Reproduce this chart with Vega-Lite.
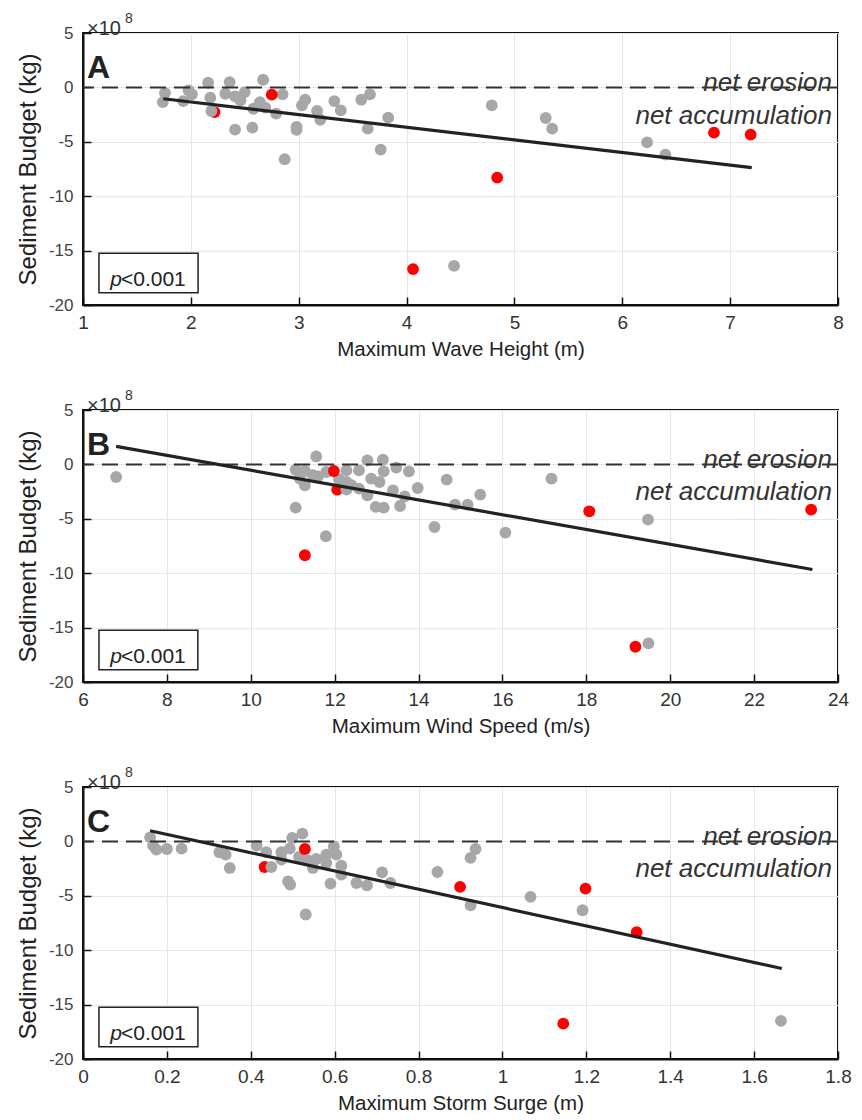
{
  "$schema": "https://vega.github.io/schema/vega-lite/v6.json",
  "background": "white",
  "autosize": {"type": "pad"},
  "padding": {"left": 15, "top": 11, "right": 12, "bottom": 4},
  "bounds": "flush",
  "spacing": 105,
  "config": {
    "font": "Liberation Sans",
    "view": {"stroke": "#111", "strokeWidth": 2},
    "axis": {
      "grid": true, "gridColor": "#e6e6e6", "gridWidth": 1,
      "domainColor": "#111", "domainWidth": 2,
      "tickColor": "#111", "tickWidth": 1.5, "tickSize": -8,
      "labelFlush": false, "labelOverlap": false,
      "titleFontWeight": "normal", "titleColor": "#222", "labelColor": "#333"
    },
    "axisX": {"labelFont": "Liberation Sans", "labelFontSize": 19, "labelPadding": 16,
              "titleFont": "Liberation Sans", "titleFontSize": 20.5, "titlePadding": 7},
    "axisY": {"labelFont": "Liberation Sans", "labelFontSize": 17, "labelPadding": 18, "labelColor": "#444",
              "titleFont": "Liberation Sans", "titleFontSize": 24, "titlePadding": 8}
  },
  "datasets": {
    "pts": [
      {"p":"A","x":2.22,"y":-2.27,"k":"r"},
      {"p":"A","x":1.76,"y":-0.52,"k":"g"},
      {"p":"A","x":1.74,"y":-1.35,"k":"g"},
      {"p":"A","x":1.98,"y":-0.28,"k":"g"},
      {"p":"A","x":2.01,"y":-0.64,"k":"g"},
      {"p":"A","x":1.93,"y":-1.26,"k":"g"},
      {"p":"A","x":2.16,"y":0.43,"k":"g"},
      {"p":"A","x":2.18,"y":-0.95,"k":"g"},
      {"p":"A","x":2.19,"y":-2.17,"k":"g"},
      {"p":"A","x":2.36,"y":0.49,"k":"g"},
      {"p":"A","x":2.32,"y":-0.58,"k":"g"},
      {"p":"A","x":2.41,"y":-0.83,"k":"g"},
      {"p":"A","x":2.50,"y":-0.43,"k":"g"},
      {"p":"A","x":2.46,"y":-1.19,"k":"g"},
      {"p":"A","x":2.41,"y":-3.88,"k":"g"},
      {"p":"A","x":2.57,"y":-3.70,"k":"g"},
      {"p":"A","x":2.58,"y":-1.96,"k":"g"},
      {"p":"A","x":2.64,"y":-1.35,"k":"g"},
      {"p":"A","x":2.69,"y":-1.86,"k":"g"},
      {"p":"A","x":2.67,"y":0.70,"k":"g"},
      {"p":"A","x":2.85,"y":-0.64,"k":"g"},
      {"p":"A","x":2.79,"y":-2.41,"k":"g"},
      {"p":"A","x":2.87,"y":-6.60,"k":"g"},
      {"p":"A","x":2.98,"y":-3.64,"k":"g"},
      {"p":"A","x":2.98,"y":-3.90,"k":"g"},
      {"p":"A","x":3.03,"y":-1.65,"k":"g"},
      {"p":"A","x":3.06,"y":-1.13,"k":"g"},
      {"p":"A","x":3.17,"y":-2.17,"k":"g"},
      {"p":"A","x":3.20,"y":-2.97,"k":"g"},
      {"p":"A","x":3.33,"y":-1.26,"k":"g"},
      {"p":"A","x":3.39,"y":-2.11,"k":"g"},
      {"p":"A","x":3.58,"y":-1.13,"k":"g"},
      {"p":"A","x":3.66,"y":-0.64,"k":"g"},
      {"p":"A","x":3.64,"y":-3.79,"k":"g"},
      {"p":"A","x":3.76,"y":-5.72,"k":"g"},
      {"p":"A","x":3.83,"y":-2.78,"k":"g"},
      {"p":"A","x":4.79,"y":-1.65,"k":"g"},
      {"p":"A","x":5.29,"y":-2.81,"k":"g"},
      {"p":"A","x":5.35,"y":-3.79,"k":"g"},
      {"p":"A","x":6.23,"y":-5.05,"k":"g"},
      {"p":"A","x":6.40,"y":-6.18,"k":"g"},
      {"p":"A","x":4.44,"y":-16.4,"k":"g"},
      {"p":"A","x":2.75,"y":-0.67,"k":"r"},
      {"p":"A","x":4.84,"y":-8.29,"k":"r"},
      {"p":"A","x":6.85,"y":-4.16,"k":"r"},
      {"p":"A","x":7.19,"y":-4.34,"k":"r"},
      {"p":"A","x":4.06,"y":-16.7,"k":"r"},

      {"p":"B","x":12.06,"y":-2.32,"k":"r"},
      {"p":"B","x":6.79,"y":-1.16,"k":"g"},
      {"p":"B","x":11.56,"y":0.73,"k":"g"},
      {"p":"B","x":11.07,"y":-0.49,"k":"g"},
      {"p":"B","x":11.29,"y":-0.61,"k":"g"},
      {"p":"B","x":11.48,"y":-1.00,"k":"g"},
      {"p":"B","x":11.17,"y":-1.31,"k":"g"},
      {"p":"B","x":11.29,"y":-1.93,"k":"g"},
      {"p":"B","x":11.07,"y":-3.97,"k":"g"},
      {"p":"B","x":11.79,"y":-6.60,"k":"g"},
      {"p":"B","x":11.80,"y":-0.70,"k":"g"},
      {"p":"B","x":11.60,"y":-1.10,"k":"g"},
      {"p":"B","x":12.10,"y":-1.35,"k":"g"},
      {"p":"B","x":12.40,"y":-1.90,"k":"g"},
      {"p":"B","x":12.28,"y":-0.55,"k":"g"},
      {"p":"B","x":12.28,"y":-1.62,"k":"g"},
      {"p":"B","x":12.28,"y":-2.32,"k":"g"},
      {"p":"B","x":12.58,"y":-0.55,"k":"g"},
      {"p":"B","x":12.78,"y":0.37,"k":"g"},
      {"p":"B","x":12.87,"y":-1.31,"k":"g"},
      {"p":"B","x":13.07,"y":-1.62,"k":"g"},
      {"p":"B","x":12.78,"y":-2.84,"k":"g"},
      {"p":"B","x":12.58,"y":-2.23,"k":"g"},
      {"p":"B","x":13.15,"y":0.43,"k":"g"},
      {"p":"B","x":13.17,"y":-0.64,"k":"g"},
      {"p":"B","x":12.98,"y":-3.91,"k":"g"},
      {"p":"B","x":13.17,"y":-3.97,"k":"g"},
      {"p":"B","x":13.47,"y":-0.30,"k":"g"},
      {"p":"B","x":13.39,"y":-2.39,"k":"g"},
      {"p":"B","x":13.67,"y":-2.94,"k":"g"},
      {"p":"B","x":13.56,"y":-3.82,"k":"g"},
      {"p":"B","x":13.77,"y":-0.64,"k":"g"},
      {"p":"B","x":13.98,"y":-2.17,"k":"g"},
      {"p":"B","x":14.38,"y":-5.75,"k":"g"},
      {"p":"B","x":14.67,"y":-1.40,"k":"g"},
      {"p":"B","x":14.87,"y":-3.70,"k":"g"},
      {"p":"B","x":15.17,"y":-3.70,"k":"g"},
      {"p":"B","x":15.47,"y":-2.78,"k":"g"},
      {"p":"B","x":16.07,"y":-6.27,"k":"g"},
      {"p":"B","x":17.17,"y":-1.31,"k":"g"},
      {"p":"B","x":19.47,"y":-5.08,"k":"g"},
      {"p":"B","x":19.48,"y":-16.45,"k":"g"},
      {"p":"B","x":11.98,"y":-0.61,"k":"r"},
      {"p":"B","x":11.29,"y":-8.35,"k":"r"},
      {"p":"B","x":18.07,"y":-4.31,"k":"r"},
      {"p":"B","x":23.36,"y":-4.16,"k":"r"},
      {"p":"B","x":19.17,"y":-16.76,"k":"r"},

      {"p":"C","x":0.433,"y":-2.35,"k":"r"},
      {"p":"C","x":0.160,"y":0.37,"k":"g"},
      {"p":"C","x":0.167,"y":-0.39,"k":"g"},
      {"p":"C","x":0.175,"y":-0.76,"k":"g"},
      {"p":"C","x":0.200,"y":-0.70,"k":"g"},
      {"p":"C","x":0.235,"y":-0.67,"k":"g"},
      {"p":"C","x":0.325,"y":-1.00,"k":"g"},
      {"p":"C","x":0.340,"y":-1.22,"k":"g"},
      {"p":"C","x":0.350,"y":-2.44,"k":"g"},
      {"p":"C","x":0.414,"y":-0.39,"k":"g"},
      {"p":"C","x":0.437,"y":-1.00,"k":"g"},
      {"p":"C","x":0.449,"y":-2.35,"k":"g"},
      {"p":"C","x":0.473,"y":-1.00,"k":"g"},
      {"p":"C","x":0.473,"y":-1.68,"k":"g"},
      {"p":"C","x":0.489,"y":-3.67,"k":"g"},
      {"p":"C","x":0.494,"y":-3.97,"k":"g"},
      {"p":"C","x":0.493,"y":-0.67,"k":"g"},
      {"p":"C","x":0.499,"y":0.31,"k":"g"},
      {"p":"C","x":0.523,"y":0.71,"k":"g"},
      {"p":"C","x":0.515,"y":-1.43,"k":"g"},
      {"p":"C","x":0.531,"y":-6.72,"k":"g"},
      {"p":"C","x":0.536,"y":-1.74,"k":"g"},
      {"p":"C","x":0.548,"y":-2.44,"k":"g"},
      {"p":"C","x":0.556,"y":-1.62,"k":"g"},
      {"p":"C","x":0.580,"y":-1.22,"k":"g"},
      {"p":"C","x":0.580,"y":-1.99,"k":"g"},
      {"p":"C","x":0.598,"y":-0.46,"k":"g"},
      {"p":"C","x":0.604,"y":-1.22,"k":"g"},
      {"p":"C","x":0.616,"y":-2.23,"k":"g"},
      {"p":"C","x":0.616,"y":-3.05,"k":"g"},
      {"p":"C","x":0.590,"y":-3.88,"k":"g"},
      {"p":"C","x":0.652,"y":-3.82,"k":"g"},
      {"p":"C","x":0.677,"y":-4.04,"k":"g"},
      {"p":"C","x":0.713,"y":-2.84,"k":"g"},
      {"p":"C","x":0.733,"y":-3.82,"k":"g"},
      {"p":"C","x":0.845,"y":-2.81,"k":"g"},
      {"p":"C","x":0.924,"y":-5.87,"k":"g"},
      {"p":"C","x":0.924,"y":-1.52,"k":"g"},
      {"p":"C","x":0.936,"y":-0.70,"k":"g"},
      {"p":"C","x":1.067,"y":-5.10,"k":"g"},
      {"p":"C","x":1.191,"y":-6.33,"k":"g"},
      {"p":"C","x":1.664,"y":-16.5,"k":"g"},
      {"p":"C","x":0.529,"y":-0.70,"k":"r"},
      {"p":"C","x":0.899,"y":-4.18,"k":"r"},
      {"p":"C","x":1.198,"y":-4.34,"k":"r"},
      {"p":"C","x":1.320,"y":-8.35,"k":"r"},
      {"p":"C","x":1.145,"y":-16.75,"k":"r"}
    ],
    "fit": [
      {"p":"A","x":1.745,"y":-1.04},
      {"p":"A","x":7.2,"y":-7.37},
      {"p":"B","x":6.79,"y":1.65},
      {"p":"B","x":23.39,"y":-9.66},
      {"p":"C","x":0.16,"y":0.98},
      {"p":"C","x":1.666,"y":-11.68}
    ]
  },
  "vconcat": [
    {
      "width": 755, "height": 272,
      "layer": [
        {
          "data": {"name": "pts"},
          "transform": [{"filter": "datum.p === 'A'"}],
          "mark": {"type": "circle", "size": 140, "opacity": 1},
          "encoding": {
            "x": {"field": "x", "type": "quantitative", "scale": {"domain": [1, 8], "nice": false, "zero": false},
                  "axis": {"values": [1,2,3,4,5,6,7,8], "labelExpr": "'' + datum.value"}, "title": "Maximum Wave Height (m)"},
            "y": {"field": "y", "type": "quantitative", "scale": {"domain": [-20, 5], "nice": false, "zero": false},
                  "axis": {"values": [-20,-15,-10,-5,0,5], "labelExpr": "'' + datum.value"}, "title": "Sediment Budget (kg)"},
            "color": {"field": "k", "type": "nominal", "scale": {"domain": ["g","r"], "range": ["#a7a7a9","#ff0000"]}, "legend": null}
          }
        },
        {
          "data": {"values": [{}]},
          "mark": {"type": "rule", "strokeDash": [16, 8], "color": "#333", "strokeWidth": 2},
          "encoding": {"y": {"datum": 0}}
        },
        {
          "data": {"name": "fit"},
          "transform": [{"filter": "datum.p === 'A'"}],
          "mark": {"type": "line", "color": "#222", "strokeWidth": 3.2},
          "encoding": {"x": {"field": "x", "type": "quantitative"}, "y": {"field": "y", "type": "quantitative"}}
        },
        {
          "data": {"values": [{}]},
          "mark": {"type": "text", "text": "A", "fontSize": 32, "fontWeight": "bold", "align": "left", "dx": 4, "dy": 35, "color": "#222"},
          "encoding": {"x": {"datum": 1}, "y": {"datum": 5}}
        },
        {
          "data": {"values": [{}]},
          "mark": {"type": "text", "text": "×10", "fontSize": 20, "align": "left", "dx": 4, "dy": -4, "color": "#333"},
          "encoding": {"x": {"datum": 1}, "y": {"datum": 5}}
        },
        {
          "data": {"values": [{}]},
          "mark": {"type": "text", "text": "8", "fontSize": 14, "align": "left", "dx": 42, "dy": -14, "color": "#333"},
          "encoding": {"x": {"datum": 1}, "y": {"datum": 5}}
        },
        {
          "data": {"values": [{}]},
          "mark": {"type": "text", "text": "net erosion", "fontSize": 26, "fontStyle": "italic", "align": "right", "dx": -6, "dy": -4, "color": "#333"},
          "encoding": {"x": {"datum": 8}, "y": {"datum": 0}}
        },
        {
          "data": {"values": [{}]},
          "mark": {"type": "text", "text": "net accumulation", "fontSize": 26, "fontStyle": "italic", "align": "right", "dx": -6, "dy": 29, "color": "#333"},
          "encoding": {"x": {"datum": 8}, "y": {"datum": 0}}
        },
        {
          "data": {"values": [{}]},
          "mark": {"type": "rect", "fill": "white", "stroke": "#222", "strokeWidth": 1.5},
          "encoding": {"x": {"datum": 1.148}, "x2": {"datum": 2.067}, "y": {"datum": -15.25}, "y2": {"datum": -18.87}}
        },
        {
          "data": {"values": [{}]},
          "mark": {"type": "text", "text": "p", "fontSize": 21, "fontStyle": "italic", "align": "right", "dx": 23, "color": "#222"},
          "encoding": {"x": {"datum": 1.148}, "y": {"datum": -17.7}}
        },
        {
          "data": {"values": [{}]},
          "mark": {"type": "text", "text": "<0.001", "fontSize": 21, "align": "left", "dx": 22, "color": "#222"},
          "encoding": {"x": {"datum": 1.148}, "y": {"datum": -17.7}}
        }
      ]
    },
    {
      "width": 755, "height": 272,
      "layer": [
        {
          "data": {"name": "pts"},
          "transform": [{"filter": "datum.p === 'B'"}],
          "mark": {"type": "circle", "size": 140, "opacity": 1},
          "encoding": {
            "x": {"field": "x", "type": "quantitative", "scale": {"domain": [6, 24], "nice": false, "zero": false},
                  "axis": {"values": [6,8,10,12,14,16,18,20,22,24], "labelExpr": "'' + datum.value"}, "title": "Maximum Wind Speed (m/s)"},
            "y": {"field": "y", "type": "quantitative", "scale": {"domain": [-20, 5], "nice": false, "zero": false},
                  "axis": {"values": [-20,-15,-10,-5,0,5], "labelExpr": "'' + datum.value"}, "title": "Sediment Budget (kg)"},
            "color": {"field": "k", "type": "nominal", "scale": {"domain": ["g","r"], "range": ["#a7a7a9","#ff0000"]}, "legend": null}
          }
        },
        {
          "data": {"values": [{}]},
          "mark": {"type": "rule", "strokeDash": [16, 8], "color": "#333", "strokeWidth": 2},
          "encoding": {"y": {"datum": 0}}
        },
        {
          "data": {"name": "fit"},
          "transform": [{"filter": "datum.p === 'B'"}],
          "mark": {"type": "line", "color": "#222", "strokeWidth": 3.2},
          "encoding": {"x": {"field": "x", "type": "quantitative"}, "y": {"field": "y", "type": "quantitative"}}
        },
        {
          "data": {"values": [{}]},
          "mark": {"type": "text", "text": "B", "fontSize": 32, "fontWeight": "bold", "align": "left", "dx": 4, "dy": 35, "color": "#222"},
          "encoding": {"x": {"datum": 6}, "y": {"datum": 5}}
        },
        {
          "data": {"values": [{}]},
          "mark": {"type": "text", "text": "×10", "fontSize": 20, "align": "left", "dx": 4, "dy": -4, "color": "#333"},
          "encoding": {"x": {"datum": 6}, "y": {"datum": 5}}
        },
        {
          "data": {"values": [{}]},
          "mark": {"type": "text", "text": "8", "fontSize": 14, "align": "left", "dx": 42, "dy": -14, "color": "#333"},
          "encoding": {"x": {"datum": 6}, "y": {"datum": 5}}
        },
        {
          "data": {"values": [{}]},
          "mark": {"type": "text", "text": "net erosion", "fontSize": 26, "fontStyle": "italic", "align": "right", "dx": -6, "dy": -4, "color": "#333"},
          "encoding": {"x": {"datum": 24}, "y": {"datum": 0}}
        },
        {
          "data": {"values": [{}]},
          "mark": {"type": "text", "text": "net accumulation", "fontSize": 26, "fontStyle": "italic", "align": "right", "dx": -6, "dy": 28, "color": "#333"},
          "encoding": {"x": {"datum": 24}, "y": {"datum": 0}}
        },
        {
          "data": {"values": [{}]},
          "mark": {"type": "rect", "fill": "white", "stroke": "#222", "strokeWidth": 1.5},
          "encoding": {"x": {"datum": 6.381}, "x2": {"datum": 8.738}, "y": {"datum": -15.25}, "y2": {"datum": -18.87}}
        },
        {
          "data": {"values": [{}]},
          "mark": {"type": "text", "text": "p", "fontSize": 21, "fontStyle": "italic", "align": "right", "dx": 23, "color": "#222"},
          "encoding": {"x": {"datum": 6.381}, "y": {"datum": -17.7}}
        },
        {
          "data": {"values": [{}]},
          "mark": {"type": "text", "text": "<0.001", "fontSize": 21, "align": "left", "dx": 22, "color": "#222"},
          "encoding": {"x": {"datum": 6.381}, "y": {"datum": -17.7}}
        }
      ]
    },
    {
      "width": 755, "height": 272,
      "layer": [
        {
          "data": {"name": "pts"},
          "transform": [{"filter": "datum.p === 'C'"}],
          "mark": {"type": "circle", "size": 140, "opacity": 1},
          "encoding": {
            "x": {"field": "x", "type": "quantitative", "scale": {"domain": [0, 1.8], "nice": false, "zero": false},
                  "axis": {"values": [0,0.2,0.4,0.6,0.8,1,1.2,1.4,1.6,1.8], "labelExpr": "'' + datum.value"}, "title": "Maximum Storm Surge (m)"},
            "y": {"field": "y", "type": "quantitative", "scale": {"domain": [-20, 5], "nice": false, "zero": false},
                  "axis": {"values": [-20,-15,-10,-5,0,5], "labelExpr": "'' + datum.value"}, "title": "Sediment Budget (kg)"},
            "color": {"field": "k", "type": "nominal", "scale": {"domain": ["g","r"], "range": ["#a7a7a9","#ff0000"]}, "legend": null}
          }
        },
        {
          "data": {"values": [{}]},
          "mark": {"type": "rule", "strokeDash": [16, 8], "color": "#333", "strokeWidth": 2},
          "encoding": {"y": {"datum": 0}}
        },
        {
          "data": {"name": "fit"},
          "transform": [{"filter": "datum.p === 'C'"}],
          "mark": {"type": "line", "color": "#222", "strokeWidth": 3.2},
          "encoding": {"x": {"field": "x", "type": "quantitative"}, "y": {"field": "y", "type": "quantitative"}}
        },
        {
          "data": {"values": [{}]},
          "mark": {"type": "text", "text": "C", "fontSize": 32, "fontWeight": "bold", "align": "left", "dx": 4, "dy": 35, "color": "#222"},
          "encoding": {"x": {"datum": 0}, "y": {"datum": 5}}
        },
        {
          "data": {"values": [{}]},
          "mark": {"type": "text", "text": "×10", "fontSize": 20, "align": "left", "dx": 4, "dy": -4, "color": "#333"},
          "encoding": {"x": {"datum": 0}, "y": {"datum": 5}}
        },
        {
          "data": {"values": [{}]},
          "mark": {"type": "text", "text": "8", "fontSize": 14, "align": "left", "dx": 42, "dy": -14, "color": "#333"},
          "encoding": {"x": {"datum": 0}, "y": {"datum": 5}}
        },
        {
          "data": {"values": [{}]},
          "mark": {"type": "text", "text": "net erosion", "fontSize": 26, "fontStyle": "italic", "align": "right", "dx": -6, "dy": -4, "color": "#333"},
          "encoding": {"x": {"datum": 1.8}, "y": {"datum": 0}}
        },
        {
          "data": {"values": [{}]},
          "mark": {"type": "text", "text": "net accumulation", "fontSize": 26, "fontStyle": "italic", "align": "right", "dx": -6, "dy": 28, "color": "#333"},
          "encoding": {"x": {"datum": 1.8}, "y": {"datum": 0}}
        },
        {
          "data": {"values": [{}]},
          "mark": {"type": "rect", "fill": "white", "stroke": "#222", "strokeWidth": 1.5},
          "encoding": {"x": {"datum": 0.038}, "x2": {"datum": 0.274}, "y": {"datum": -15.25}, "y2": {"datum": -18.87}}
        },
        {
          "data": {"values": [{}]},
          "mark": {"type": "text", "text": "p", "fontSize": 21, "fontStyle": "italic", "align": "right", "dx": 23, "color": "#222"},
          "encoding": {"x": {"datum": 0.038}, "y": {"datum": -17.7}}
        },
        {
          "data": {"values": [{}]},
          "mark": {"type": "text", "text": "<0.001", "fontSize": 21, "align": "left", "dx": 22, "color": "#222"},
          "encoding": {"x": {"datum": 0.038}, "y": {"datum": -17.7}}
        }
      ]
    }
  ]
}
